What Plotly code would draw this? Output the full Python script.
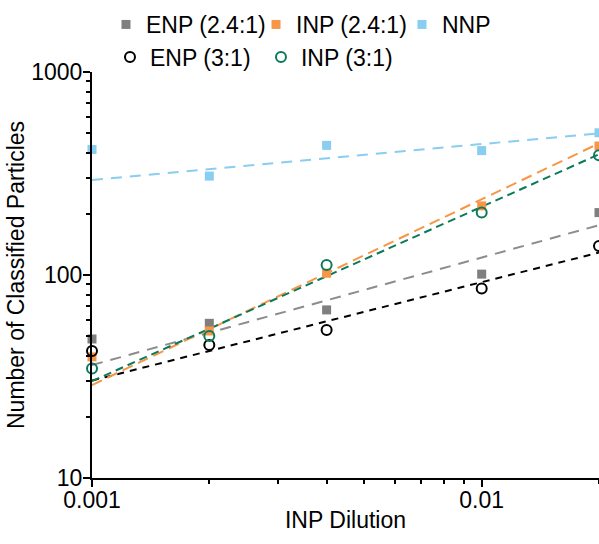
import numpy as np
import plotly.graph_objects as go

# ---- data ----
dilution = [0.001, 0.002, 0.004, 0.01, 0.02]
enp_24 = [48.4, 57.8, 67.3, 101, 203]
inp_24 = [39.5, 53, 102, 219, 432]
nnp = [415, 307, 435, 410, 502]
enp_3 = [42.2, 45.2, 53.6, 85.7, 139]
inp_3 = [34.6, 50.1, 112, 203, 389]

# fitted trend lines (read at the ends of the x range)
fit_x = [0.001, 0.02]
fit_enp_24 = [36, 176]
fit_inp_24 = [28.7, 445]
fit_nnp = [294, 499]
fit_enp_3 = [30.2, 129]
fit_inp_3 = [30, 393]

x_ticks = [0.001, 0.01]
x_ticktext = ["0.001", "0.01"]
y_ticks = [10, 100, 1000]
y_ticktext = ["10", "100", "1000"]

GRAY = "#7F7F7F"
GRAYLINE = "#8C8C8C"
ORANGE = "#F79646"
BLUE = "#89CDF0"
BLACK = "#000000"
GREEN = "#0B7A5B"
FONT = "Liberation Sans, Arial, sans-serif"
FS = 23

fig = go.Figure()

# trend lines
for ys, col, dash in [
    (fit_nnp, BLUE, "11px,8px"),
    (fit_enp_24, GRAYLINE, "11px,8px"),
    (fit_enp_3, BLACK, "7px,6px"),
    (fit_inp_24, ORANGE, "11px,6px"),
    (fit_inp_3, GREEN, "8px,5px"),
]:
    fig.add_trace(go.Scatter(x=fit_x, y=ys, mode="lines", showlegend=False,
                             line=dict(color=col, width=2, dash=dash),
                             hoverinfo="skip", cliponaxis=False))

sq = dict(symbol="square", size=9)
fig.add_trace(go.Scatter(x=dilution, y=enp_24, mode="markers", name="ENP (2.4:1)",
                         marker=dict(color=GRAY, **sq), legend="legend", cliponaxis=False))
fig.add_trace(go.Scatter(x=dilution, y=inp_24, mode="markers", name="INP (2.4:1)",
                         marker=dict(color=ORANGE, **sq), legend="legend2", cliponaxis=False))
fig.add_trace(go.Scatter(x=dilution, y=nnp, mode="markers", name="NNP",
                         marker=dict(color=BLUE, **sq), legend="legend3", cliponaxis=False))
fig.add_trace(go.Scatter(x=dilution, y=enp_3, mode="markers", name="ENP (3:1)",
                         marker=dict(symbol="circle-open", size=10, color=BLACK,
                                     line=dict(width=2, color=BLACK)),
                         legend="legend4", cliponaxis=False))
fig.add_trace(go.Scatter(x=dilution, y=inp_3, mode="markers", name="INP (3:1)",
                         marker=dict(symbol="circle-open", size=10, color=GREEN,
                                     line=dict(width=2, color=GREEN)),
                         legend="legend5", cliponaxis=False))

axis_common = dict(showline=True, linecolor="black", linewidth=2, ticks="outside",
                   ticklen=7, tickwidth=2, tickcolor="black", showgrid=False,
                   zeroline=False, tickfont=dict(size=FS, color="black", family=FONT),
                   mirror=False, automargin=False)

fig.update_xaxes(type="log", range=[-3, np.log10(0.02) + 1e-5], tickmode="array",
                 tickvals=x_ticks, ticktext=x_ticktext, ticklabelstandoff=-7,
                 minor=dict(ticks="outside", ticklen=4, tickwidth=1.5, tickcolor="black",
                            tickvals=[0.002, 0.003, 0.004, 0.005, 0.006, 0.007, 0.008, 0.009, 0.02]),
                 title=dict(text="INP Dilution", font=dict(size=FS, color="black", family=FONT),
                            standoff=0),
                 **axis_common)
fig.update_yaxes(type="log", range=[1, 3], tickmode="array",
                 tickvals=y_ticks, ticktext=y_ticktext, ticklabelstandoff=-4,
                 minor=dict(ticks="outside", ticklen=4, tickwidth=1.5, tickcolor="black",
                            tickvals=[20, 30, 40, 50, 60, 70, 80, 90,
                                      200, 300, 400, 500, 600, 700, 800, 900]),
                 title=dict(text="Number of Classified Particles",
                            font=dict(size=FS, color="black", family=FONT), standoff=0),
                 **axis_common)

legend_font = dict(size=FS, color="black", family=FONT)


def leg(x, y):
    return dict(orientation="h", x=x, xanchor="left", y=y, yanchor="middle",
                font=legend_font, bgcolor="rgba(0,0,0,0)")


fig.update_layout(
    template="none",
    width=599, height=544,
    margin=dict(l=92, r=0, t=72, b=65.5, autoexpand=False),
    plot_bgcolor="white", paper_bgcolor="white",
    font=dict(family=FONT, color="black"),
    legend=leg(0.0276, 1.117),
    legend2=leg(0.3235, 1.117),
    legend3=leg(0.6114, 1.117),
    legend4=leg(0.0355, 1.037),
    legend5=leg(0.3333, 1.037),
)

page_js = ("document.body.style.margin='0';"
           "document.body.style.overflow='hidden';"
           "document.documentElement.style.overflow='hidden';")

fig.write_html("out.html", config={"responsive": False, "displayModeBar": False},
               post_script=page_js)
